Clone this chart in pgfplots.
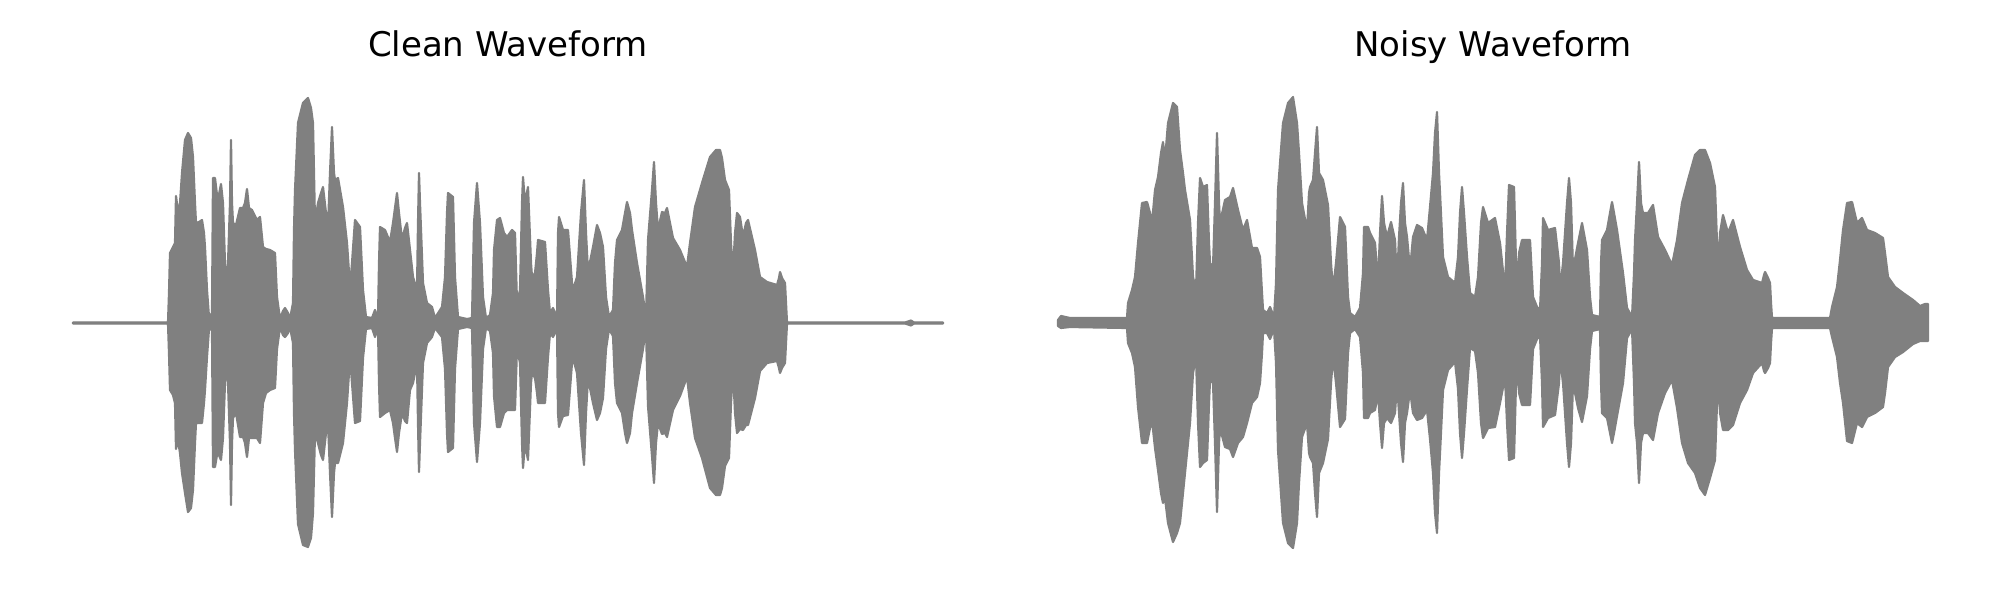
\documentclass[border=0pt]{standalone}
\usepackage{pgfplots}
\pgfplotsset{compat=1.18}
\usepackage{pgfplotstable}
\usepackage{fontspec}
\setmainfont{DejaVu Sans}
\definecolor{wf}{HTML}{808080}

\pgfplotstableread{
x t b
73 0.5 -0.5
168 0.5 -0.5
169 30 -30
170 70 -67
173 76 -72
175 80 -80
176 127 -126
178 111 -117
180 120 -130
182 150 -150
185 183 -170
188 190 -189
191 185 -185
193 166 -167
195 120 -120
196 100 -100
199 101 -100
202 103 -100
204 90 -80
205 76 -67
207 33 -34
209 6 -6
212 10 -7
213 145 -144
215 145 -144
217 128 -132
218 123 -130
221 139 -137
223 120 -115
225 60 -60
227 40 -44
228 60 -60
230 120 -120
231 183 -182
232 120 -120
233 100 -95
236 98 -90
240 115 -114
243 115 -114
245 120 -120
247 134 -134
249 115 -115
252 113 -115
257 103 -115
260 106 -120
263 76 -80
266 74 -70
270 73 -67
275 70 -65
277 26 -26
280 4 -4
283 12 -12
285 15 -14
288 10 -10
290 4 -4
293 20 -20
294 93 -90
295 133 -127
298 200 -201
303 220 -222
308 225 -224
311 215 -215
313 200 -190
315 100 -110
318 120 -120
321 130 -132
323 136 -137
326 110 -110
328 96 -100
330 150 -150
332 196 -194
334 150 -150
335 143 -140
338 145 -140
343 116 -120
347 80 -80
350 36 -35
352 60 -60
355 103 -100
360 96 -98
363 33 -35
366 6 -6
372 5 -5
375 13 -14
378 5 -5
379 60 -60
380 96 -94
385 93 -90
390 81 -87
393 100 -100
395 115 -115
397 130 -129
399 110 -110
402 83 -90
405 95 -98
407 100 -100
410 73 -67
413 46 -60
417 33 -40
418 100 -100
419 150 -149
420 120 -120
423 40 -40
427 20 -20
432 16 -14
435 5 -5
442 16 -14
445 46 -46
447 110 -110
448 130 -129
453 126 -125
455 46 -46
458 6 -6
467 4 -4
472 5 -5
474 100 -100
477 140 -139
480 100 -100
483 26 -26
486 5 -5
490 8 -8
493 30 -30
494 73 -73
497 103 -104
500 105 -104
504 90 -90
507 86 -87
512 93 -87
515 90 -87
517 20 -25
520 33 -40
522 120 -120
523 146 -145
525 120 -120
528 136 -137
531 60 -60
532 46 -50
535 50 -55
537 70 -70
538 83 -80
545 81 -80
548 33 -34
550 10 -10
553 15 -14
557 5 -5
558 90 -90
559 106 -104
563 93 -93
568 93 -92
572 40 -40
573 33 -35
577 46 -50
581 110 -110
584 143 -142
586 90 -90
588 51 -55
593 76 -80
597 98 -97
600 90 -90
603 76 -75
606 26 -26
609 6 -6
613 13 -13
615 60 -60
617 83 -80
622 93 -90
625 110 -110
627 121 -120
630 110 -110
632 93 -90
637 60 -60
643 26 -26
646 6 -6
648 83 -83
652 133 -133
654 161 -160
656 120 -120
658 93 -100
662 111 -111
665 110 -110
667 115 -114
673 85 -87
680 73 -73
687 56 -54
690 80 -80
695 116 -115
702 140 -135
710 166 -165
716 173 -172
720 173 -172
722 165 -165
725 143 -143
729 133 -135
731 80 -80
733 50 -47
735 90 -90
737 110 -110
740 106 -106
743 86 -107
746 100 -102
748 103 -102
755 73 -75
760 46 -48
767 41 -40
777 38 -38
779 45 -45
780 51 -50
782 45 -45
785 40 -40
786 20 -20
787 0.5 -0.5
905 0.5 -0.5
911 2.5 -2.5
914 0.5 -0.5
943 0.5 -0.5
}\cleanwave

\pgfplotstableread{
x t b
1058 3 -3
1061 7 -5
1070 5 -4
1127 5 -5
1128 20 -20
1132 33 -30
1135 46 -44
1138 80 -84
1142 120 -120
1147 121 -120
1150 110 -105
1152 100 -97
1155 133 -125
1158 146 -147
1161 170 -170
1163 181 -180
1165 163 -175
1168 200 -200
1173 220 -219
1177 216 -210
1180 173 -200
1183 150 -170
1185 133 -150
1188 115 -120
1190 103 -100
1193 46 -50
1196 33 -34
1198 100 -100
1200 145 -144
1203 136 -140
1207 138 -137
1209 80 -80
1210 60 -57
1213 56 -60
1215 120 -120
1217 190 -189
1219 120 -120
1220 100 -105
1225 123 -124
1230 126 -126
1233 135 -134
1238 113 -120
1243 93 -114
1247 103 -100
1252 75 -80
1257 75 -74
1260 66 -60
1262 30 -30
1263 13 -10
1267 10 -10
1270 16 -16
1274 6 -6
1276 40 -40
1278 133 -127
1283 200 -200
1288 220 -220
1293 226 -225
1297 200 -200
1299 170 -160
1302 120 -114
1307 93 -100
1309 130 -130
1310 136 -134
1313 143 -140
1315 170 -170
1317 196 -194
1319 150 -150
1323 143 -140
1328 118 -116
1331 60 -60
1333 33 -34
1336 60 -60
1340 106 -104
1345 96 -96
1348 26 -30
1350 10 -10
1355 6 -6
1360 15 -14
1363 50 -50
1364 96 -95
1368 96 -95
1370 90 -90
1375 80 -87
1378 40 -70
1380 90 -100
1382 127 -125
1384 100 -100
1387 86 -95
1391 101 -100
1395 83 -90
1397 40 -60
1399 86 -90
1401 120 -120
1403 140 -139
1405 100 -100
1407 86 -90
1410 53 -67
1413 86 -90
1417 98 -97
1422 95 -95
1427 83 -87
1430 116 -116
1433 150 -150
1435 190 -190
1437 211 -210
1439 150 -150
1440 130 -130
1443 66 -67
1448 46 -47
1455 40 -39
1458 66 -66
1460 110 -110
1462 136 -135
1464 110 -110
1467 66 -66
1470 30 -25
1475 26 -28
1478 46 -50
1481 100 -100
1483 116 -115
1488 100 -105
1495 105 -104
1500 80 -80
1505 33 -54
1507 90 -100
1509 138 -137
1514 136 -135
1516 60 -60
1517 33 -35
1519 70 -70
1522 83 -82
1530 83 -82
1533 26 -26
1537 16 -16
1540 13 -13
1542 60 -60
1543 105 -104
1548 93 -95
1555 95 -92
1559 60 -60
1560 33 -35
1563 60 -60
1567 120 -120
1569 145 -144
1571 120 -120
1573 53 -60
1578 80 -85
1582 100 -99
1587 73 -73
1590 26 -26
1592 8 -8
1600 6 -6
1601 60 -60
1602 83 -90
1607 93 -95
1610 110 -110
1612 121 -120
1614 110 -110
1617 93 -93
1623 50 -60
1627 15 -15
1632 6 -6
1634 50 -60
1635 83 -100
1637 120 -120
1639 161 -160
1641 120 -120
1643 110 -110
1648 110 -110
1653 118 -117
1658 86 -90
1665 73 -70
1672 58 -57
1677 83 -85
1682 120 -120
1688 143 -140
1695 168 -150
1700 173 -165
1705 173 -172
1710 160 -155
1715 136 -137
1717 80 -80
1718 50 -50
1720 90 -90
1723 108 -107
1728 90 -107
1733 103 -102
1740 76 -80
1747 53 -67
1753 43 -50
1762 40 -40
1764 48 -48
1765 51 -50
1768 45 -45
1770 40 -40
1771 20 -20
1772 5 -5
1830 5 -5
1832 16 -14
1837 36 -34
1840 63 -60
1843 93 -80
1847 120 -118
1852 121 -120
1857 100 -100
1862 105 -104
1867 93 -94
1875 90 -90
1883 85 -84
1885 70 -70
1888 46 -44
1895 36 -34
1903 30 -29
1913 23 -21
1920 17 -18
1925 19 -18
1928 19 -18
}\noisywave

\pgfplotsset{
  wave/.style={
    scale only axis, width=435pt, height=300pt,
    ymin=-277, ymax=323, hide axis, clip=false,
    anchor=south west,
  },
  env/.style={fill=wf, draw=wf, line width=1.1pt, line join=round},
}

\begin{document}
\begin{tikzpicture}
\path[use as bounding box] (0pt,0pt) rectangle (1000pt,300pt);
\begin{axis}[wave, at={(36.5pt,0pt)}, xmin=73, xmax=943]
  \addplot[env] table[x=x, y=t] {\cleanwave} \closedcycle;
  \addplot[env] table[x=x, y=b] {\cleanwave} \closedcycle;
  \node[anchor=base, font=\fontsize{17}{20}\selectfont] at (axis cs:508,266) {Clean Waveform};
\end{axis}
\begin{axis}[wave, at={(529pt,0pt)}, xmin=1058, xmax=1928]
  \addplot[env] table[x=x, y=t] {\noisywave} \closedcycle;
  \addplot[env] table[x=x, y=b] {\noisywave} \closedcycle;
  \node[anchor=base, font=\fontsize{17}{20}\selectfont] at (axis cs:1493,266) {Noisy Waveform};
\end{axis}
\end{tikzpicture}
\end{document}
